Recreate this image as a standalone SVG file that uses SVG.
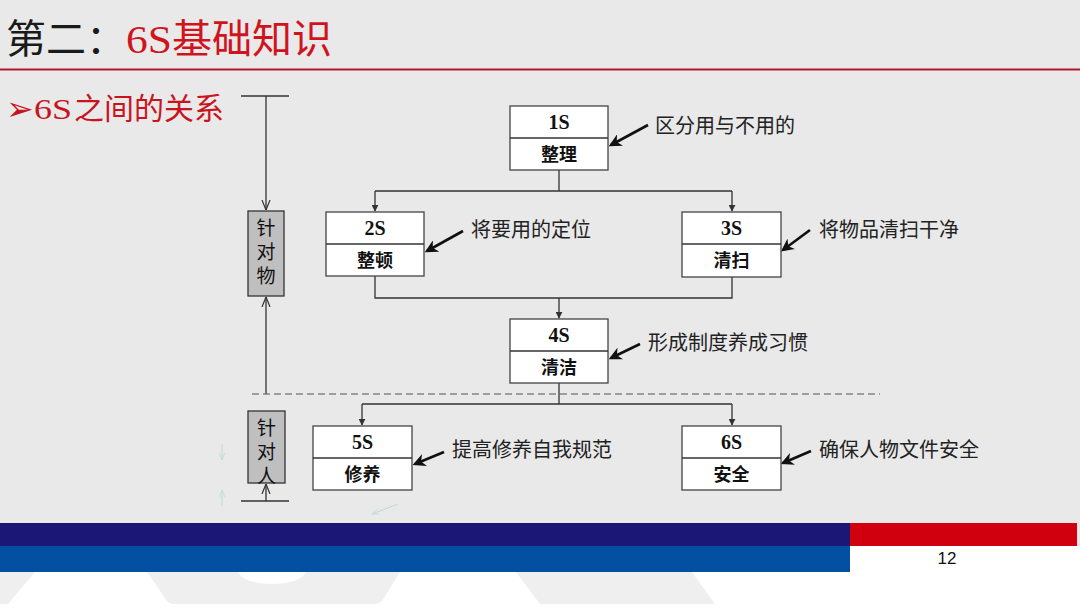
<svg xmlns="http://www.w3.org/2000/svg" width="1080" height="608" viewBox="0 0 1080 608">
<style>
.bx{fill:#ffffff;stroke:#444;stroke-width:1.3}
.gbx{fill:#bfbfbf;stroke:#333;stroke-width:1.3}
.code{font-family:"Liberation Serif","Noto Sans CJK SC",serif;font-weight:bold;font-size:20px;fill:#111;text-anchor:middle}
.nm{font-family:"Noto Sans CJK SC",sans-serif;font-weight:bold;font-size:18px;fill:#111;text-anchor:middle}
.lab{font-family:"Noto Sans CJK SC",sans-serif;font-size:20px;fill:#222}
.con{fill:none;stroke:#333;stroke-width:1.3}
.ptr{fill:none;stroke:#111;stroke-width:2.6}
.vt{font-family:"Noto Sans CJK SC",sans-serif;font-size:19px;fill:#111;writing-mode:vertical-rl;letter-spacing:5px}
.ghost{fill:none;stroke:#b9dcd2;stroke-width:1}
</style>
<defs>
<marker id="ah" viewBox="0 0 10 10" refX="9" refY="5" markerWidth="7" markerHeight="7" orient="auto" markerUnits="userSpaceOnUse">
<path d="M0,0 L10,5 L0,10 z" fill="#333"/>
</marker>
<marker id="open" viewBox="0 0 10 10" refX="10" refY="5" markerWidth="10" markerHeight="10" orient="auto" markerUnits="userSpaceOnUse">
<path d="M0,1 L10,5 L0,9" fill="none" stroke="#333" stroke-width="1.2"/>
</marker>
<marker id="big" viewBox="0 0 10 10" refX="8" refY="5" markerWidth="13" markerHeight="13" orient="auto" markerUnits="userSpaceOnUse">
<path d="M0,0 L10,5 L0,10 L3,5 z" fill="#111"/>
</marker>
<marker id="gh" viewBox="0 0 10 10" refX="10" refY="5" markerWidth="7" markerHeight="7" orient="auto" markerUnits="userSpaceOnUse">
<path d="M0,1 L10,5 L0,9" fill="none" stroke="#b9dcd2" stroke-width="1"/>
</marker>
</defs>

<!-- background -->
<rect x="0" y="0" width="1080" height="608" fill="#e9e9e9"/>
<rect x="0" y="546" width="1080" height="62" fill="#ffffff"/>
<g id="watermark" fill="#efefef">
<path d="M0,572 L35,572 L8,604 L0,604 z"/>
<path d="M147,572 L239,572 A33,12 0 0 0 305,572 L400,572 L384,598 Q381,604 374,604 L174,604 Q168,604 165,598 z"/>
<path d="M516,572 L692,572 L715,604 L540,604 z"/>
</g>

<!-- title -->
<g id="title">
<text x="6" y="53" font-family="Noto Sans CJK SC,sans-serif" font-size="40" fill="#1a1a1a">第二：</text>
<text x="126" y="53" font-family="Liberation Serif,serif" font-size="40" fill="#d0141e" textLength="46" lengthAdjust="spacingAndGlyphs">6S</text>
<text x="172" y="53" font-family="Noto Sans CJK SC,sans-serif" font-size="40" fill="#d0141e">基础知识</text>
<line x1="0" y1="69.5" x2="1080" y2="69.5" stroke="#b5142d" stroke-width="2"/>
</g>
<g id="subtitle">
<text x="6" y="120" font-family="DejaVu Sans,sans-serif" font-size="33" fill="#c8141e">➢</text>
<text x="34" y="119" font-family="Liberation Serif,serif" font-size="30" fill="#c8141e" textLength="38" lengthAdjust="spacingAndGlyphs">6S</text>
<text x="74" y="119" font-family="Noto Sans CJK SC,sans-serif" font-size="30" fill="#c8141e">之间的关系</text>
</g>

<!-- connectors -->
<g id="connectors">
<line x1="241" y1="96" x2="289" y2="96" class="con"/>
<line x1="266" y1="96" x2="266" y2="210" class="con" marker-end="url(#open)"/>
<line x1="266" y1="394" x2="266" y2="297" class="con" marker-end="url(#open)"/>
<line x1="266" y1="501" x2="266" y2="484" class="con" marker-end="url(#open)"/>
<line x1="241" y1="501" x2="289" y2="501" class="con"/>
<line x1="252" y1="394" x2="880" y2="394" stroke="#555" stroke-width="1.2" stroke-dasharray="7,4"/>

<path d="M559,170 V191 M375,191 H732" class="con"/>
<line x1="375" y1="191" x2="375" y2="211" class="con" marker-end="url(#ah)"/>
<line x1="732" y1="191" x2="732" y2="211" class="con" marker-end="url(#ah)"/>
<path d="M375,276 V298 H732 V277" class="con"/>
<line x1="559" y1="298" x2="559" y2="318" class="con" marker-end="url(#ah)"/>
<path d="M559,383 V404 M362,404 H732" class="con"/>
<line x1="362" y1="404" x2="362" y2="425" class="con" marker-end="url(#ah)"/>
<line x1="732" y1="404" x2="732" y2="425" class="con" marker-end="url(#ah)"/>

<line x1="648" y1="125" x2="611" y2="145" class="ptr" marker-end="url(#big)"/>
<line x1="463" y1="231" x2="427" y2="251" class="ptr" marker-end="url(#big)"/>
<line x1="810" y1="230" x2="783" y2="250" class="ptr" marker-end="url(#big)"/>
<line x1="640" y1="344" x2="611" y2="358" class="ptr" marker-end="url(#big)"/>
<line x1="444" y1="452" x2="415" y2="464" class="ptr" marker-end="url(#big)"/>
<line x1="811" y1="451" x2="783" y2="463" class="ptr" marker-end="url(#big)"/>

<line x1="222" y1="444" x2="222" y2="460" class="ghost" marker-end="url(#gh)"/>
<line x1="222" y1="506" x2="222" y2="490" class="ghost" marker-end="url(#gh)"/>
<line x1="398" y1="504" x2="372" y2="514" class="ghost" marker-end="url(#gh)"/>
</g>

<!-- side boxes -->
<g id="side-thing">
<rect x="248" y="211" width="36" height="85" class="gbx"/>
<text x="266" y="218" class="vt">针对物</text>
</g>
<g id="side-person">
<rect x="248" y="411" width="37" height="72" class="gbx"/>
<text x="266.5" y="418" class="vt">针对人</text>
</g>

<!-- nodes -->
<g id="n1s">
<rect x="510" y="106" width="98" height="64" class="bx"/>
<line x1="510" y1="138" x2="608" y2="138" class="con"/>
<text x="559" y="129" class="code">1S</text>
<text x="559" y="161" class="nm">整理</text>
<text x="655" y="133" class="lab">区分用与不用的</text>
</g>
<g id="n2s">
<rect x="326" y="212" width="98" height="64" class="bx"/>
<line x1="326" y1="244" x2="424" y2="244" class="con"/>
<text x="375" y="235" class="code">2S</text>
<text x="375" y="267" class="nm">整顿</text>
<text x="471" y="237" class="lab">将要用的定位</text>
</g>
<g id="n3s">
<rect x="682" y="212" width="99" height="65" class="bx"/>
<line x1="682" y1="244" x2="781" y2="244" class="con"/>
<text x="731.5" y="235" class="code">3S</text>
<text x="731.5" y="267" class="nm">清扫</text>
<text x="819" y="237" class="lab">将物品清扫干净</text>
</g>
<g id="n4s">
<rect x="510" y="319" width="98" height="64" class="bx"/>
<line x1="510" y1="351" x2="608" y2="351" class="con"/>
<text x="559" y="342" class="code">4S</text>
<text x="559" y="374" class="nm">清洁</text>
<text x="648" y="350" class="lab">形成制度养成习惯</text>
</g>
<g id="n5s">
<rect x="313" y="426" width="99" height="64" class="bx"/>
<line x1="313" y1="458" x2="412" y2="458" class="con"/>
<text x="362.5" y="449" class="code">5S</text>
<text x="362.5" y="481" class="nm">修养</text>
<text x="452" y="457" class="lab">提高修养自我规范</text>
</g>
<g id="n6s">
<rect x="682" y="426" width="99" height="64" class="bx"/>
<line x1="682" y1="458" x2="781" y2="458" class="con"/>
<text x="731.5" y="449" class="code">6S</text>
<text x="731.5" y="481" class="nm">安全</text>
<text x="819" y="457" class="lab">确保人物文件安全</text>
</g>

<!-- footer bands -->
<g id="footer">
<rect x="0" y="523" width="850" height="23" fill="#1b1777"/>
<rect x="0" y="546" width="850" height="26" fill="#0350a2"/>
<rect x="850" y="523" width="227" height="23" fill="#d0000f"/>
<text x="947" y="564" font-family="Liberation Sans,sans-serif" font-size="17" fill="#111" text-anchor="middle">12</text>
</g>
</svg>
